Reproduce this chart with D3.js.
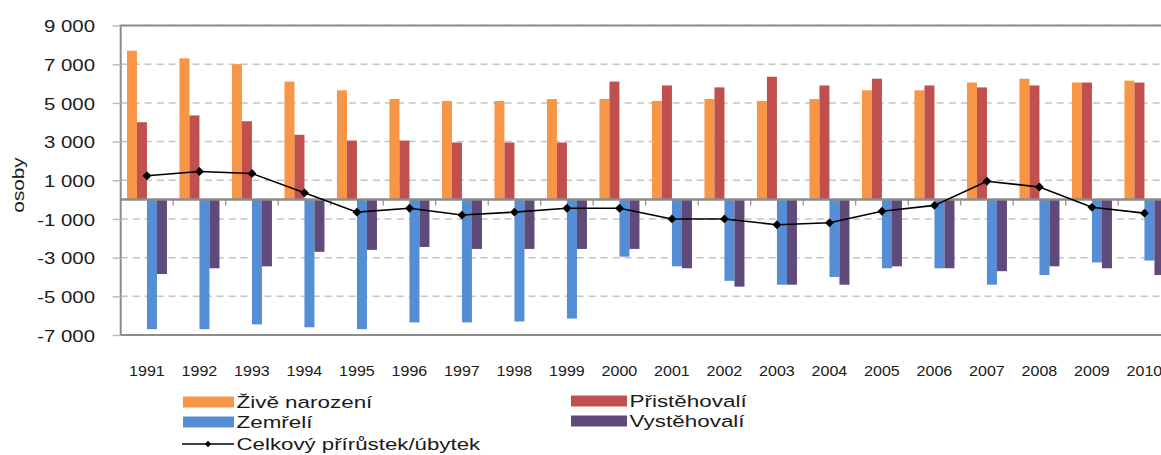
<!DOCTYPE html>
<html><head><meta charset="utf-8">
<script src="https://cdn.jsdelivr.net/npm/d3@7"></script>
<style>body{margin:0;background:#fff}svg{display:block}</style>
</head><body><svg id="c" width="1161" height="455"></svg>
<script>
const years = ["1991","1992","1993","1994","1995","1996","1997","1998","1999","2000","2001","2002","2003","2004","2005","2006","2007","2008","2009","2010"];
const births = [7700,7300,7000,6100,5650,5200,5100,5100,5200,5200,5100,5200,5100,5200,5650,5650,6050,6250,6050,6150];
const immigrants = [4000,4350,4050,3350,3050,3050,2950,2950,2950,6100,5900,5800,6350,5900,6250,5900,5800,5900,6050,6050];
const deaths = [-6700,-6700,-6450,-6600,-6700,-6350,-6350,-6300,-6150,-2950,-3450,-4200,-4400,-4000,-3550,-3550,-4400,-3900,-3250,-3150];
const emigrants = [-3850,-3550,-3450,-2700,-2600,-2450,-2550,-2550,-2550,-2550,-3550,-4500,-4400,-4400,-3450,-3550,-3700,-3450,-3550,-3900];
const total = [1230,1450,1350,350,-650,-450,-800,-650,-450,-450,-1000,-1000,-1300,-1200,-600,-300,950,650,-400,-700];
const seriesNames = ["Živě narození","Přistěhovalí","Zemřelí","Vystěhovalí"];
const totalName = "Celkový přírůstek/úbytek";
const yTicks = [-7000,-5000,-3000,-1000,1000,3000,5000,7000,9000];
const yTickLabels = ["-7 000","-5 000","-3 000","-1 000","1 000","3 000","5 000","7 000","9 000"];
const yTitle = "osoby";

(function () {
const seriesValues = [births, immigrants, deaths, emigrants];
const colors = ["#F79646","#C0504D","#558ED5","#604A7B"];
const FONT = "'Liberation Sans', Arial, sans-serif";

const svg = d3.select("#c");
const pLeft = 120.7, pTop = 25.5, pBottom = 335, step = 52.5;
const pRight = pLeft + step * years.length;

const y = d3.scaleLinear().domain([-7000, 9000]).range([pBottom, pTop]);
const x0 = d3.scaleBand().domain(years).range([pLeft, pRight]).paddingInner(0.238).paddingOuter(0.119);
const x1 = d3.scaleBand().domain(d3.range(4)).range([0, x0.bandwidth()]);

// gridlines
svg.append("g").selectAll("line").data(yTicks).join("line")
  .attr("x1", pLeft).attr("x2", pRight)
  .attr("y1", d => y(d)).attr("y2", d => y(d))
  .attr("stroke", "#c4c4c4").attr("stroke-width", 1.5).attr("stroke-dasharray", "7,5");

// bars
const groups = svg.append("g").selectAll("g").data(years).join("g")
  .attr("transform", d => `translate(${x0(d)},0)`);
groups.selectAll("rect").data((d, i) => seriesValues.map((s, k) => ({k, v: s[i]}))).join("rect")
  .attr("x", d => x1(d.k)).attr("width", x1.bandwidth())
  .attr("y", d => Math.min(y(d.v), y(0))).attr("height", d => Math.abs(y(d.v) - y(0)))
  .attr("fill", d => colors[d.k]);

// plot border
svg.append("rect").attr("x", pLeft).attr("y", pTop).attr("width", pRight - pLeft).attr("height", pBottom - pTop)
  .attr("fill", "none").attr("stroke", "#8c8c8c").attr("stroke-width", 2);

// zero line + category ticks
svg.append("line").attr("x1", pLeft).attr("x2", pRight).attr("y1", y(0)).attr("y2", y(0))
  .attr("stroke", "#8c8c8c").attr("stroke-width", 2.5);
const gap = (x0.step() - x0.bandwidth()) / 2;
svg.append("g").selectAll("line").data(years.slice(1)).join("line")
  .attr("x1", d => x0(d) - gap).attr("x2", d => x0(d) - gap)
  .attr("y1", y(0)).attr("y2", y(0) + 6)
  .attr("stroke", "#8c8c8c").attr("stroke-width", 1.2);

// y axis
const yAxis = svg.append("g").attr("transform", `translate(${pLeft},0)`)
  .call(d3.axisLeft(y).tickValues(yTicks).tickSize(8).tickFormat((d, i) => yTickLabels[i]));
yAxis.select(".domain").remove();
yAxis.selectAll("line").attr("stroke", "#bdbdbd").attr("stroke-width", 1.5);
yAxis.selectAll("text")
  .attr("x", -25.7 / 1.2).attr("dy", "0.36em")
  .attr("transform", "scale(1.2,1)")
  .attr("font-family", FONT).attr("font-size", 17).attr("fill", "#1a1a1a");

// x axis labels
const xAxis = svg.append("g").attr("transform", `translate(0,${y(0)})`)
  .call(d3.axisBottom(x0).tickSize(0).tickFormat(d => d));
xAxis.select(".domain").remove();
xAxis.selectAll(".tick").attr("transform", d => `translate(${x0(d) + x0.bandwidth() / 2},${375.5 - y(0)})`);
xAxis.selectAll("text").attr("y", 0).attr("dy", 0)
  .attr("transform", "scale(1.07,1)")
  .attr("font-family", FONT).attr("font-size", 15).attr("fill", "#1a1a1a");

// line series
const cx = d => x0(d) + x0.bandwidth() / 2;
svg.append("path").datum(years)
  .attr("d", d3.line().x(d => cx(d)).y((d, i) => y(total[i])))
  .attr("fill", "none").attr("stroke", "#000").attr("stroke-width", 1.6);
const diamond = d3.symbol().type(d3.symbolDiamond2).size(50);
svg.append("g").selectAll("path").data(years).join("path")
  .attr("d", diamond)
  .attr("transform", (d, i) => `translate(${cx(d)},${y(total[i])})`)
  .attr("fill", "#000");

// y title
svg.append("text").attr("transform", "translate(24,185) rotate(-90) scale(1.22,1)")
  .attr("text-anchor", "middle").attr("font-family", FONT).attr("font-size", 17).attr("fill", "#1a1a1a")
  .text(yTitle);

// legend
const legItems = [
  {name: seriesNames[0], color: colors[0], x: 183, w: 51, yc: 402},
  {name: seriesNames[1], color: colors[1], x: 571, w: 56, yc: 401},
  {name: seriesNames[2], color: colors[2], x: 183, w: 51, yc: 422},
  {name: seriesNames[3], color: colors[3], x: 571, w: 56, yc: 421}
];
const leg = svg.append("g");
legItems.forEach(it => {
  leg.append("rect").attr("x", it.x).attr("y", it.yc - 5.5).attr("width", it.w).attr("height", 11).attr("fill", it.color);
  leg.append("text").attr("transform", `translate(${it.x + it.w + 2.5},${it.yc + 6}) scale(1.32,1)`)
    .attr("font-family", FONT).attr("font-size", 17).attr("fill", "#1a1a1a").text(it.name);
});
leg.append("line").attr("x1", 182).attr("x2", 234).attr("y1", 444).attr("y2", 444).attr("stroke", "#444").attr("stroke-width", 2);
leg.append("path").attr("d", d3.symbol().type(d3.symbolDiamond2).size(26)).attr("transform", "translate(208,444)").attr("fill", "#000");
leg.append("text").attr("transform", "translate(236.5,450) scale(1.31,1)")
  .attr("font-family", FONT).attr("font-size", 17).attr("fill", "#1a1a1a").text(totalName);
})();
</script></body></html>
